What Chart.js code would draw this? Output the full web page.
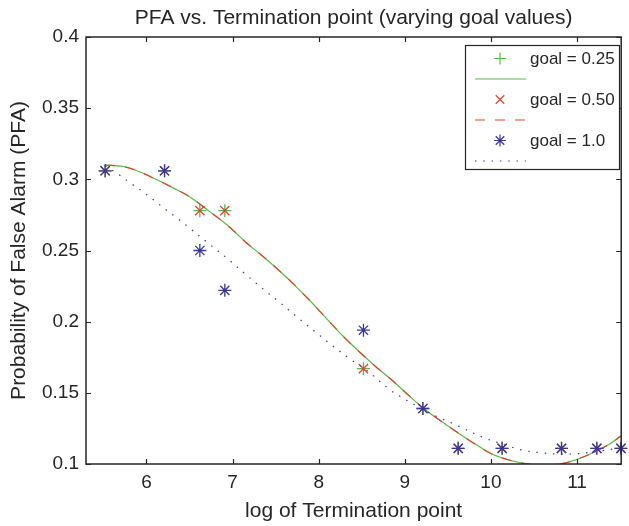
<!DOCTYPE html>
<html><head><meta charset="utf-8">
<script src="https://cdn.jsdelivr.net/npm/chart.js@4.4.1/dist/chart.umd.min.js"></script>
<style>html,body{margin:0;padding:0;background:#fff}</style>
</head><body>
<canvas id="c" width="629" height="526"></canvas>
<script>
// ---- data ----
const chartTitle = 'PFA vs. Termination point (varying goal values)';
const xTitle = 'log of Termination point';
const yTitle = 'Probability of False Alarm (PFA)';
const seriesNames = ['goal = 0.25', 'goal = 0.50', 'goal = 1.0'];

const logTermination = [5.52, 6.21, 6.62, 6.91, 8.52, 9.21, 9.62, 10.13, 10.82, 11.23, 11.51];
const pfaGoal025 = [0.306, 0.306, 0.278, 0.278, 0.167, 0.139, 0.111, 0.111, 0.111, 0.111, 0.111];
const pfaGoal050 = [0.306, 0.306, 0.278, 0.278, 0.167, 0.139, 0.111, 0.111, 0.111, 0.111, 0.111];
const pfaGoal100 = [0.306, 0.306, 0.250, 0.222, 0.194, 0.139, 0.111, 0.111, 0.111, 0.111, 0.111];

// fitted curves
const fitXa = [5.52, 5.73, 5.92, 6.11, 6.31, 6.50, 6.73, 6.96, 7.15, 7.34, 7.53, 7.72, 7.91, 8.10, 8.29, 8.49, 8.68, 8.85, 9.03, 9.22, 9.41, 9.60, 9.83, 10.02, 10.21, 10.40, 10.62, 10.80, 10.98, 11.17, 11.36, 11.51];
const fitGoal025 = [0.310, 0.309, 0.3053, 0.300, 0.294, 0.2878, 0.2775, 0.2667, 0.2560, 0.2465, 0.2365, 0.2257, 0.2140, 0.2016, 0.1894, 0.1778, 0.1675, 0.1590, 0.1490, 0.1390, 0.1305, 0.1226, 0.1135, 0.1068, 0.1028, 0.1003, 0.0990, 0.1000, 0.1028, 0.1075, 0.1133, 0.1196];
const fitGoal050 = [0.310, 0.309, 0.3053, 0.300, 0.294, 0.2878, 0.2775, 0.2667, 0.2560, 0.2465, 0.2365, 0.2257, 0.2140, 0.2016, 0.1894, 0.1778, 0.1675, 0.1590, 0.1490, 0.1390, 0.1305, 0.1226, 0.1135, 0.1068, 0.1028, 0.1003, 0.0990, 0.1000, 0.1028, 0.1075, 0.1133, 0.1196];
const fitXb = [5.52, 5.67, 5.81, 5.95, 6.09, 6.22, 6.36, 6.49, 6.73, 6.96, 7.16, 7.36, 7.56, 7.76, 7.96, 8.16, 8.37, 8.58, 8.83, 9.03, 9.22, 9.41, 9.60, 9.92, 10.17, 10.36, 10.59, 10.80, 10.98, 11.13, 11.28, 11.44, 11.51];
const fitGoal100 = [0.3095, 0.3037, 0.2976, 0.2916, 0.2852, 0.2789, 0.2726, 0.2663, 0.2545, 0.2433, 0.2328, 0.2227, 0.2129, 0.2027, 0.1929, 0.1831, 0.1735, 0.1648, 0.1520, 0.1445, 0.1379, 0.1323, 0.1273, 0.1184, 0.1133, 0.1098, 0.1078, 0.1070, 0.1072, 0.1080, 0.1092, 0.1108, 0.1117];

const xTicks = [6, 7, 8, 9, 10, 11];
const yTicks = [0.1, 0.15, 0.2, 0.25, 0.3, 0.35, 0.4];

// ---- styling ----
const FONT = '"Liberation Sans", Arial, Helvetica, sans-serif';
const INK = '#262626';
const GREEN = '#52bd45';
const RED = '#e2432f';
const BLUE = '#3a3896';
const DOTS = [1.5, 6.8];

Chart.defaults.font.family = FONT;
Chart.defaults.color = INK;

const toPts = (xs, ys) => xs.map((x, i) => ({x: x, y: ys[i]}));

function drawMarker(ctx, style, x, y, r) {
  ctx.beginPath();
  if (style === 'cross' || style === 'star') {
    ctx.moveTo(x - r, y); ctx.lineTo(x + r, y);
    ctx.moveTo(x, y - r); ctx.lineTo(x, y + r);
  }
  if (style === 'crossRot' || style === 'star') {
    const d = r * Math.SQRT1_2;
    ctx.moveTo(x - d, y - d); ctx.lineTo(x + d, y + d);
    ctx.moveTo(x - d, y + d); ctx.lineTo(x + d, y - d);
  }
  ctx.stroke();
}

const framePlugin = {
  id: 'frame',
  afterDatasetsDraw(chart) {
    const {ctx, chartArea: a, scales} = chart;
    ctx.save();
    ctx.strokeStyle = INK;
    ctx.lineWidth = 1.5;
    ctx.strokeRect(a.left, a.top, a.right - a.left, a.bottom - a.top);
    ctx.lineWidth = 1.2;
    ctx.beginPath();
    const tl = 5;
    xTicks.forEach(v => {
      const px = Math.round(scales.x.getPixelForValue(v)) + 0.5;
      ctx.moveTo(px, a.bottom); ctx.lineTo(px, a.bottom - tl);
      ctx.moveTo(px, a.top); ctx.lineTo(px, a.top + tl);
    });
    yTicks.forEach(v => {
      const py = Math.round(scales.y.getPixelForValue(v)) + 0.5;
      ctx.moveTo(a.left, py); ctx.lineTo(a.left + tl, py);
      ctx.moveTo(a.right, py); ctx.lineTo(a.right - tl, py);
    });
    ctx.stroke();
    ctx.restore();
  }
};

const legendPlugin = {
  id: 'boxLegend',
  afterDraw(chart) {
    const ctx = chart.ctx;
    const L = 465, T = 45, R = 619, B = 169;
    ctx.save();
    ctx.fillStyle = '#fff';
    ctx.fillRect(L, T, R - L, B - T);
    ctx.strokeStyle = INK;
    ctx.lineWidth = 1.2;
    ctx.strokeRect(L + 0.5, T + 0.5, R - L, B - T);
    const entries = [
      {marker: 'cross', color: GREEN, dash: []},
      {marker: 'crossRot', color: RED, dash: [10, 10]},
      {marker: 'star', color: BLUE, dash: DOTS}
    ];
    entries.forEach((e, i) => {
      const my = T + 13.5 + i * 41;
      const ly = my + 20.5;
      ctx.strokeStyle = e.color;
      ctx.lineWidth = 1.2;
      ctx.setLineDash([]);
      drawMarker(ctx, e.marker, 500, my, 6);
      ctx.setLineDash(e.dash);
      ctx.beginPath();
      ctx.moveTo(475, ly); ctx.lineTo(526, ly);
      ctx.stroke();
      ctx.setLineDash([]);
      ctx.fillStyle = INK;
      ctx.font = '17px ' + FONT;
      ctx.textBaseline = 'middle';
      ctx.textAlign = 'left';
      ctx.fillText(seriesNames[i], 530, my + 1);
    });
    ctx.restore();
  }
};

const scatterBase = {showLine: false, pointRadius: 6.5, pointHoverRadius: 6.5, pointBorderWidth: 1.3, clip: false};
const lineBase = {showLine: true, pointRadius: 0, borderWidth: 1.2, tension: 0.35, clip: 0, fill: false};

new Chart(document.getElementById('c'), {
  type: 'scatter',
  data: {
    datasets: [
      Object.assign({label: seriesNames[0], data: toPts(logTermination, pfaGoal025), pointStyle: 'cross', borderColor: GREEN, backgroundColor: GREEN, order: 5}, scatterBase),
      Object.assign({label: seriesNames[0] + ' fit', data: toPts(fitXa, fitGoal025), borderColor: GREEN, order: 4}, lineBase),
      Object.assign({label: seriesNames[1], data: toPts(logTermination, pfaGoal050), pointStyle: 'crossRot', borderColor: RED, backgroundColor: RED, order: 3}, scatterBase),
      Object.assign({label: seriesNames[1] + ' fit', data: toPts(fitXa, fitGoal050), borderColor: RED, borderDash: [10, 10], order: 2}, lineBase),
      Object.assign({label: seriesNames[2], data: toPts(logTermination, pfaGoal100), pointStyle: 'star', borderColor: BLUE, backgroundColor: BLUE, order: 1}, scatterBase),
      Object.assign({label: seriesNames[2] + ' fit', data: toPts(fitXb, fitGoal100), borderColor: BLUE, borderDash: DOTS, borderWidth: 1.5, order: 0}, lineBase)
    ]
  },
  options: {
    responsive: false,
    animation: false,
    devicePixelRatio: 1,
    layout: {padding: {left: 0, right: 2, top: 6, bottom: 0}},
    plugins: {
      legend: {display: false},
      tooltip: {enabled: false},
      title: {display: true, fullSize: false, text: chartTitle, color: INK, font: {size: 21, weight: 'normal'}, padding: {top: 0, bottom: 5.8}}
    },
    scales: {
      x: {
        type: 'linear', min: 5.298, max: 11.513,
        afterBuildTicks: s => { s.ticks = xTicks.map(v => ({value: v})); },
        afterFit: s => { s.height = 62; },
        grid: {display: false, drawTicks: false},
        border: {display: false},
        ticks: {font: {size: 19}, color: INK, padding: 7, maxRotation: 0, autoSkip: false, callback: v => String(v)},
        title: {display: true, text: xTitle, color: INK, font: {size: 21}, padding: {top: 0, bottom: 2}}
      },
      y: {
        type: 'linear', min: 0.1, max: 0.4,
        afterBuildTicks: s => { s.ticks = yTicks.map(v => ({value: v})); },
        afterFit: s => { s.width = 86; },
        grid: {display: false, drawTicks: false},
        border: {display: false},
        ticks: {font: {size: 19}, color: INK, padding: 7, autoSkip: false, callback: v => String(+v.toFixed(2))},
        title: {display: true, text: yTitle, color: INK, font: {size: 21}, padding: {top: 7, bottom: 0}}
      }
    }
  },
  plugins: [framePlugin, legendPlugin]
});
</script>
</body></html>
